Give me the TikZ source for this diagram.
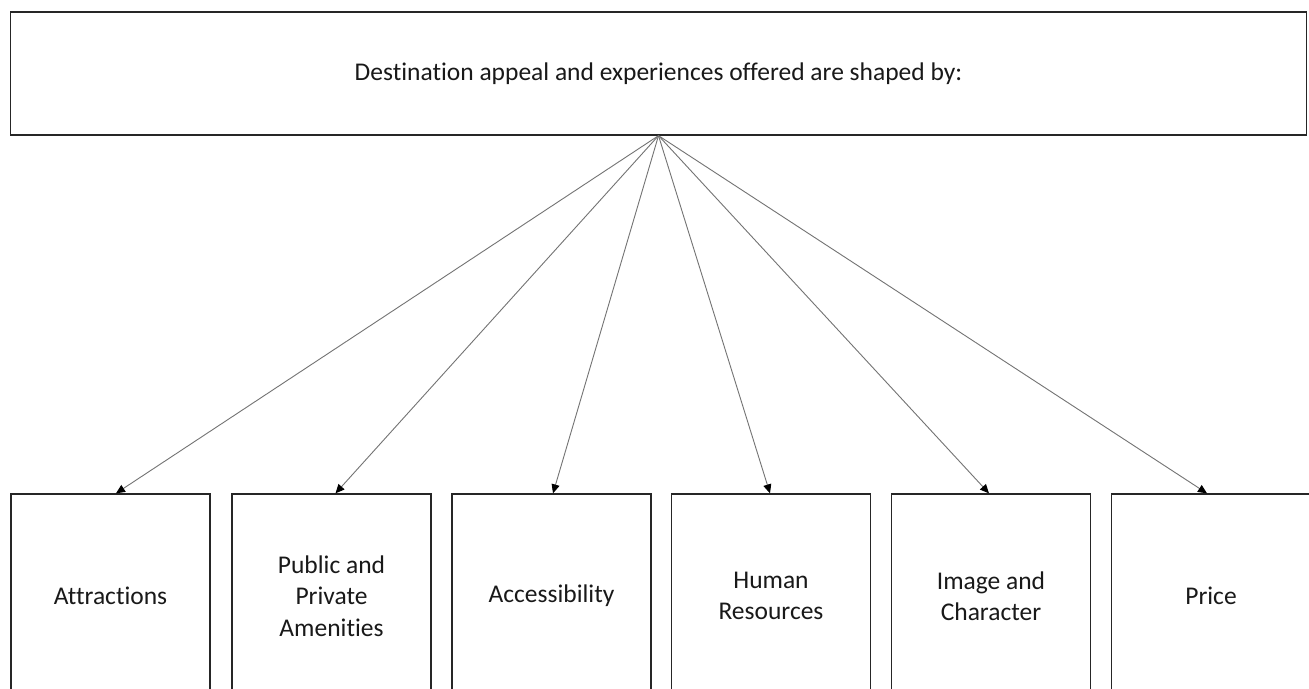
\documentclass[tikz,border=0pt]{standalone}
\usepackage{fontspec}
\setmainfont{Carlito}[Ligatures={NoCommon}]
\usetikzlibrary{arrows.meta}
\begin{document}
\begin{tikzpicture}[x=1pt,y=-1pt,
  box/.style={draw=black!85, line width=1.3pt, fill=white, inner sep=0pt, align=center,
    font=\fontsize{25.5}{31.5}\selectfont, text=black!90},
  small/.style={box, minimum width=199pt, minimum height=204pt},
  link/.style={draw=black!55, line width=0.9pt, -{Triangle[length=9pt,width=8pt,color=black]}}]
\useasboundingbox (0,0) rectangle (1309,688);
\clip (0,0) rectangle (1309,688);
\fill[white] (0,0) rectangle (1309,688);
\node[box, minimum width=1296pt, minimum height=123pt] (top) at (658.5,73.5)
  {Destination appeal and experiences offered are shaped by:};
\node[small] (attr) at (110.5,596) {Attractions};
\node[small] (amen) at (331.5,596) {Public and\\Private\\Amenities};
\node[small] (acc) at (551.5,596) {Accessibility};
\node[small] (hum) at (771,596) {Human\\Resources};
\node[small] (img) at (991,596) {Image and\\Character};
\node[small] (price) at (1211,596) {Price};
\draw[link] (top.south) -- ([xshift=5.5pt]attr.north);
\draw[link] (top.south) -- ([xshift=4pt]amen.north);
\draw[link] (top.south) -- ([xshift=1.5pt]acc.north);
\draw[link] (top.south) -- ([xshift=-1pt]hum.north);
\draw[link] (top.south) -- ([xshift=-2pt]img.north);
\draw[link] (top.south) -- ([xshift=-4pt]price.north);
\end{tikzpicture}
\end{document}
